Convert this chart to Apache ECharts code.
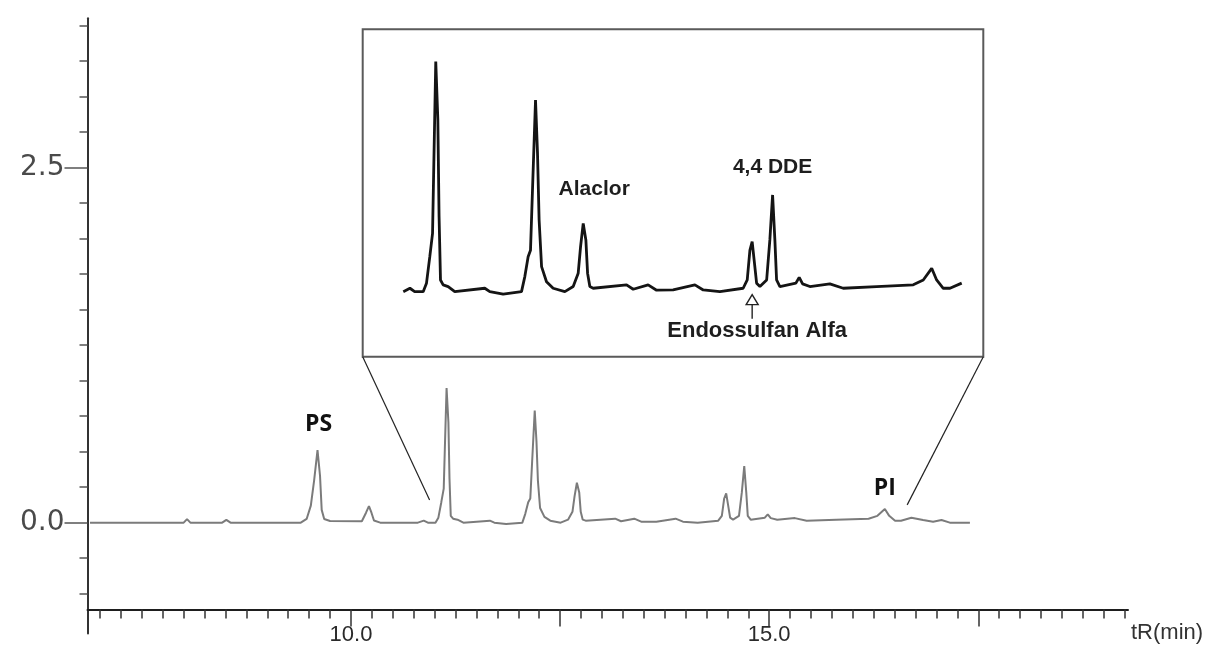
<!DOCTYPE html>
<html>
<head>
<meta charset="utf-8">
<title>Cromatograma</title>
<script src="https://cdn.jsdelivr.net/npm/echarts@6/dist/echarts.min.js"></script>
<style>
  html, body { margin: 0; padding: 0; background: #fff; }
  #chart { width: 1208px; height: 648px; }
</style>
</head>
<body>
<div id="chart"></div>
<script>
var retentionTime = [
  6.88, 8.00, 8.04, 8.08, 8.46, 8.51, 8.56, 9.40, 9.47, 9.52, 9.56, 9.60, 9.63, 9.65, 9.68, 9.75,
  10.13, 10.18, 10.215, 10.245, 10.275, 10.35, 10.80, 10.87, 10.92, 11.01, 11.045, 11.08, 11.109,
  11.122, 11.143, 11.165, 11.178, 11.193, 11.221, 11.274, 11.344, 11.661, 11.714, 11.855, 12.049,
  12.084, 12.119, 12.144, 12.166, 12.197, 12.218, 12.235, 12.261, 12.313, 12.383, 12.507, 12.595,
  12.648, 12.673, 12.701, 12.729, 12.747, 12.771, 12.806, 13.159, 13.229, 13.387, 13.476, 13.651,
  13.881, 13.969, 14.145, 14.391, 14.434, 14.462, 14.486, 14.507, 14.533, 14.568, 14.639, 14.673,
  14.702, 14.726, 14.744, 14.779, 14.948, 14.983, 15.019, 15.096, 15.307, 15.448, 15.801, 16.188,
  16.294, 16.383, 16.435, 16.505, 16.576, 16.70, 16.84, 16.96, 17.06, 17.16, 17.40
];
var signal = [
  0, 0, 0.025, 0, 0, 0.02, 0, 0, 0.026, 0.12, 0.30, 0.51, 0.33, 0.09, 0.026, 0.012,
  0.01, 0.07, 0.117, 0.07, 0.015, 0, 0, 0.014, 0, 0, 0.035, 0.144, 0.24,
  0.514, 0.947, 0.707, 0.309, 0.048, 0.028, 0.021, 0, 0.014, 0, -0.01, 0,
  0.062, 0.144, 0.17, 0.43, 0.789, 0.57, 0.295, 0.103, 0.041, 0.014, 0, 0.021,
  0.076, 0.185, 0.281, 0.213, 0.076, 0.021, 0.014, 0.028, 0.01, 0.028, 0.006, 0.007,
  0.028, 0.007, 0, 0.014, 0.048, 0.17, 0.206, 0.13, 0.035, 0.021, 0.048, 0.213,
  0.398, 0.213, 0.048, 0.021, 0.035, 0.059, 0.032, 0.021, 0.032, 0.014, 0.021, 0.028,
  0.048, 0.096, 0.048, 0.014, 0.014, 0.035, 0.019, 0.007, 0.019, 0, 0
];

// trecho mostrado no detalhe
var zoomRange = [10.8, 16.7];

// marcas dos eixos
var xMajorTicks = [10, 12.5, 15, 17.5];
var xLabelValues = [10, 15];
var yMajorTicks = [0, 2.5];

// rótulos dos picos: [texto, tempo, sinal, dx, dy]
var mainLabels = [['PS', 9.60, 0.51, 1, -26], ['PI', 16.383, 0.096, 0, -21]];
var insetLabels = [['Alaclor', 12.701, 0.281, 11, -34], ['4,4 DDE', 14.702, 0.398, 0, -28]];
var arrowTarget = [14.486, 0];
var linkEnds = [[10.94, 0.16], [16.65, 0.125]];

function steps(from, to, step) {
  var out = [];
  for (var v = from; v <= to + 1e-9; v += step) out.push(Math.round(v * 100) / 100);
  return out;
}
var xMinorTicks = steps(7, 19.25, 0.25);
var yMinorTicks = steps(-0.5, 3.5, 0.25);

var trace = retentionTime.map(function (t, i) { return [t, signal[i]]; });
var insetTrace = trace.filter(function (p) { return p[0] >= zoomRange[0] && p[0] <= zoomRange[1]; });

var myChart = echarts.init(document.getElementById('chart'));

var fmt = function (v) { return v.toFixed(1); };

myChart.setOption({
  animation: false,
  grid: [
    { left: 87.5, right: 80, top: 18.2, bottom: 14.5 },
    { left: 403.3, right: 246.3, top: 48.7, bottom: 344.2 }
  ],
  xAxis: [
    {
      type: 'value', gridIndex: 0, min: 6.85, max: 19.29, position: 'bottom', offset: -24,
      axisLine: { onZero: false, lineStyle: { color: '#1e1e1e', width: 2 } },
      axisTick: { customValues: xMinorTicks, length: 9, lineStyle: { color: '#333', width: 1.5 } },
      axisLabel: { show: false },
      splitLine: { show: false },
      name: 'tR(min)', nameLocation: 'end', nameGap: 3,
      nameTextStyle: { fontFamily: 'Liberation Sans', fontSize: 22, color: '#333', verticalAlign: 'top', padding: [12, 0, 0, 0] }
    },
    {
      type: 'value', gridIndex: 0, min: 6.85, max: 19.29, position: 'bottom', offset: -24,
      axisLine: { show: false, onZero: false },
      axisTick: { customValues: xMajorTicks, length: 17, lineStyle: { color: '#333', width: 1.5 } },
      axisLabel: { customValues: xLabelValues, formatter: fmt, margin: 14, fontFamily: 'Liberation Sans', fontSize: 22, color: '#2a2a2a' },
      splitLine: { show: false }
    },
    { type: 'value', gridIndex: 1, min: zoomRange[0], max: zoomRange[1], show: false }
  ],
  yAxis: [
    {
      type: 'value', gridIndex: 0, min: -0.78, max: 3.55, position: 'left',
      axisLine: { show: true, onZero: false, lineStyle: { color: '#333', width: 2 } },
      axisTick: { customValues: yMinorTicks, length: 8, lineStyle: { color: '#555', width: 1.5 } },
      axisLabel: { show: false },
      splitLine: { show: false }
    },
    {
      type: 'value', gridIndex: 0, min: -0.78, max: 3.55, position: 'left',
      axisLine: { show: false, onZero: false },
      axisTick: { customValues: yMajorTicks, length: 23, lineStyle: { color: '#555', width: 1.5 } },
      axisLabel: { customValues: yMajorTicks, formatter: fmt, margin: 23, fontFamily: 'DejaVu Sans', fontSize: 28, color: '#4a4a4a' },
      splitLine: { show: false }
    },
    { type: 'value', gridIndex: 1, min: -0.05, max: 1.0, show: false }
  ],
  series: [
    {
      name: 'cromatograma', type: 'line', xAxisIndex: 0, yAxisIndex: 0,
      data: trace, symbol: 'none', silent: true,
      lineStyle: { color: '#7b7b7b', width: 2 }
    },
    {
      name: 'detalhe', type: 'line', xAxisIndex: 2, yAxisIndex: 2,
      data: insetTrace, symbol: 'none', silent: true,
      lineStyle: { color: '#141414', width: 2.8 }
    }
  ]
});

// moldura do detalhe, ligações e rótulos
var box = { x: 362.7, y: 29.3, width: 620.6, height: 327.4 };
function toMain(p) { return myChart.convertToPixel({ xAxisIndex: 0, yAxisIndex: 0 }, p); }
function toInset(p) { return myChart.convertToPixel({ xAxisIndex: 2, yAxisIndex: 2 }, p); }

var graphics = [
  { type: 'rect', shape: box, style: { fill: 'none', stroke: '#5a5a5a', lineWidth: 2 } }
];
var leftEnd = toMain(linkEnds[0]);
var rightEnd = toMain(linkEnds[1]);
graphics.push({ type: 'line', shape: { x1: box.x, y1: box.y + box.height, x2: leftEnd[0], y2: leftEnd[1] }, style: { stroke: '#222', lineWidth: 1.2 } });
graphics.push({ type: 'line', shape: { x1: box.x + box.width, y1: box.y + box.height, x2: rightEnd[0], y2: rightEnd[1] }, style: { stroke: '#222', lineWidth: 1.2 } });

mainLabels.forEach(function (l) {
  var p = toMain([l[1], l[2]]);
  graphics.push({ type: 'text', x: p[0] + l[3], y: p[1] + l[4], style: { text: l[0], font: 'bold 23px "Open Sans"', fill: '#111', align: 'center', verticalAlign: 'middle' } });
});
insetLabels.forEach(function (l) {
  var p = toInset([l[1], l[2]]);
  graphics.push({ type: 'text', x: p[0] + l[3], y: p[1] + l[4], style: { text: l[0], font: 'bold 21px "Liberation Sans"', fill: '#1e1e1e', align: 'center', verticalAlign: 'middle' } });
});

var a = toInset(arrowTarget);
graphics.push({ type: 'polygon', shape: { points: [[a[0], a[1] + 3], [a[0] - 6, a[1] + 13], [a[0] + 6, a[1] + 13]] }, style: { fill: '#fff', stroke: '#222', lineWidth: 1.4 } });
graphics.push({ type: 'line', shape: { x1: a[0], y1: a[1] + 13, x2: a[0], y2: a[1] + 27 }, style: { stroke: '#222', lineWidth: 1.4 } });
graphics.push({ type: 'text', x: a[0] + 5, y: a[1] + 39, style: { text: 'Endossulfan Alfa', font: 'bold 22px "Liberation Sans"', fill: '#1e1e1e', align: 'center', verticalAlign: 'middle' } });

myChart.setOption({ graphic: graphics });
window.onresize = myChart.resize;
</script>
</body>
</html>
